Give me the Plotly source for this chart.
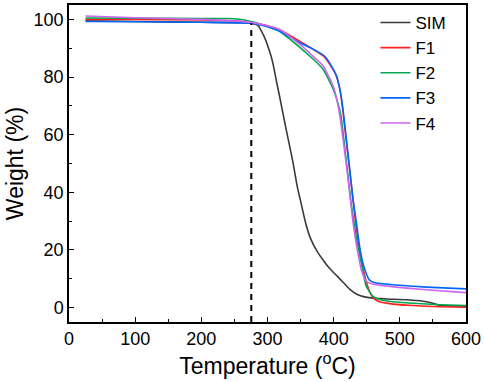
import plotly.graph_objects as go

# Data (Temperature °C, Weight %)
sim_t = [25, 100, 200, 270, 285, 295, 303, 308, 314, 318, 328, 338, 345, 351, 358, 365, 375, 385, 395, 405, 415, 425, 435, 445, 459, 480, 510, 535, 550, 560, 600]
sim_w = [99.5, 99.3, 99.0, 98.8, 98.0, 94.0, 89.0, 85.0, 78.0, 73.6, 62.0, 51.0, 42.0, 36.0, 29.0, 24.0, 19.5, 16.2, 13.3, 11.0, 8.6, 6.2, 4.6, 3.8, 3.3, 3.0, 2.7, 2.2, 1.5, 0.8, 0.5]

f1_t = [25, 100, 200, 250, 278, 300, 318, 348, 370, 386, 398, 404, 410, 414, 419, 424, 429, 434, 440, 446, 452, 459, 469, 490, 520, 560, 600]
f1_w = [100.0, 100.0, 99.8, 99.5, 98.7, 97.8, 96.5, 92.5, 89.5, 87.0, 83.0, 80.5, 75.0, 68.0, 58.0, 48.0, 38.0, 28.0, 19.0, 12.0, 7.0, 3.6, 2.0, 1.2, 0.7, 0.3, 0.1]

f2_t = [25, 100, 200, 240, 265, 280, 300, 318, 348, 370, 384, 399, 405, 411, 416, 421, 426, 431, 436, 444, 449, 459, 469, 490, 520, 560, 600]
f2_w = [100.5, 100.4, 100.3, 100.3, 99.8, 99.0, 97.5, 95.9, 90.5, 86.0, 82.7, 76.0, 72.0, 66.5, 57.0, 47.0, 37.0, 29.0, 22.0, 13.0, 7.5, 4.0, 2.8, 2.0, 1.5, 1.0, 0.7]

f3_t = [25, 100, 200, 270, 280, 300, 318, 348, 370, 386, 395, 404, 410, 414, 419, 424, 429, 434, 440, 446, 454, 464, 489, 540, 600]
f3_w = [99.3, 99.2, 99.0, 98.8, 98.5, 97.5, 96.0, 92.0, 89.5, 87.3, 84.5, 80.5, 75.0, 69.0, 58.7, 48.5, 38.0, 30.0, 20.0, 14.0, 9.6, 8.5, 7.9, 7.1, 6.5]

f4_t = [25, 100, 200, 250, 280, 300, 318, 348, 370, 384, 399, 405, 411, 420, 425, 429, 435, 442, 450, 464, 490, 540, 600]
f4_w = [101.2, 100.6, 100.0, 99.5, 98.8, 97.8, 96.5, 91.5, 87.0, 83.9, 77.0, 72.0, 64.0, 48.0, 38.0, 30.0, 21.0, 13.0, 9.0, 7.9, 7.2, 6.2, 5.2]

onset_t = 275.5
onset_w = 98.7

series = [
    ("SIM", sim_t, sim_w, "#3a3a3a"),
    ("F1", f1_t, f1_w, "#ff2020"),
    ("F2", f2_t, f2_w, "#00a650"),
    ("F3", f3_t, f3_w, "#0066ff"),
    ("F4", f4_t, f4_w, "#cc66ee"),
]

fig = go.Figure()
for name, t, w, c in series:
    fig.add_trace(go.Scatter(x=t, y=w, mode="lines", name=name,
                             line=dict(color=c, width=1.6, shape="spline", smoothing=0.5)))

fig.add_trace(go.Scatter(x=[onset_t, onset_t], y=[-5, onset_w], mode="lines",
                         line=dict(color="black", width=2, dash="6px,5px"),
                         showlegend=False, hoverinfo="skip"))

font = "Liberation Sans, Arial, sans-serif"
fig.update_layout(
    width=484, height=382,
    margin=dict(l=69, r=17, t=3, b=60),
    paper_bgcolor="white", plot_bgcolor="white",
    font=dict(family=font, color="black"),
    showlegend=True,
    legend=dict(x=0.772, y=1.0, xanchor="left", yanchor="top",
                font=dict(size=17, family=font), bgcolor="rgba(0,0,0,0)",
                tracegroupgap=0, itemwidth=30),
)
fig.update_xaxes(range=[0, 600], tickmode="linear", tick0=0, dtick=100,
                 ticks="inside", ticklen=5, tickwidth=1.2, tickcolor="black",
                 minor=dict(ticks="inside", ticklen=3, dtick=50, tickcolor="black", tickwidth=1.2),
                 showline=True, linecolor="black", linewidth=1.5, mirror=True,
                 showgrid=False, zeroline=False,
                 tickfont=dict(size=18),
                 title=dict(text="Temperature (<sup>o</sup>C)", font=dict(size=23), standoff=6))
fig.update_yaxes(range=[-5, 105], tickmode="linear", tick0=0, dtick=20,
                 ticks="inside", ticklen=5, tickwidth=1.2, tickcolor="black",
                 minor=dict(ticks="inside", ticklen=3, dtick=10, tickcolor="black", tickwidth=1.2),
                 showline=True, linecolor="black", linewidth=1.5, mirror=True,
                 showgrid=False, zeroline=False,
                 tickfont=dict(size=18),
                 title=dict(text="Weight (%)", font=dict(size=23), standoff=4))

fig.write_html("out.html", config={"displayModeBar": False},
               post_script="document.body.style.margin='0';")
